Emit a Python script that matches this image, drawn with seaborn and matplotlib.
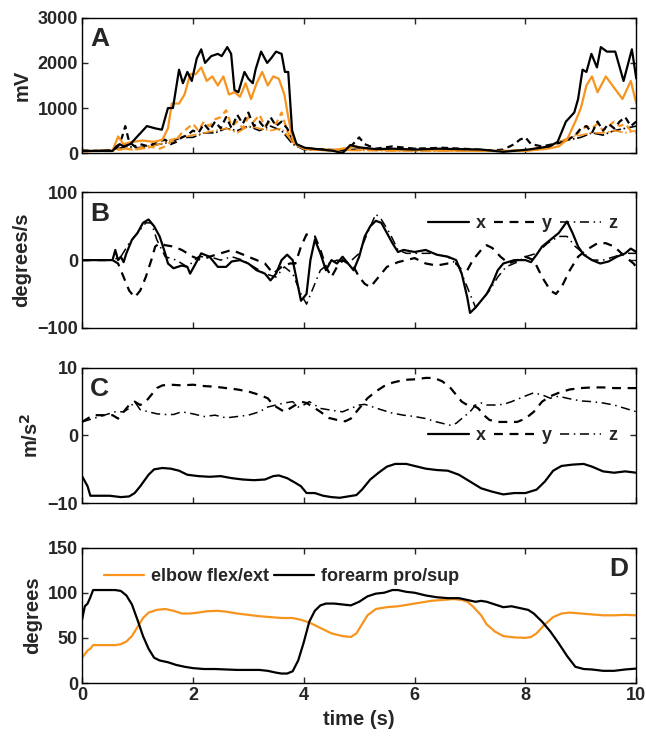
import numpy as np
import pandas as pd
import matplotlib
matplotlib.use('Agg')
import matplotlib.pyplot as plt
import seaborn as sns

ORANGE = '#F7941E'

# Panel A: EMG envelopes (mV)
emg_t_black = [0, 0.3, 0.55, 0.62, 0.68, 0.75, 0.87, 1.02, 1.17, 1.32, 1.44, 1.55, 1.64, 1.75, 1.82, 1.9, 1.98,
               2.07, 2.15, 2.22, 2.33, 2.45, 2.52, 2.62, 2.69, 2.75, 2.82, 2.93, 3.0, 3.08, 3.13, 3.23, 3.34,
               3.41, 3.5, 3.6, 3.66, 3.72, 3.79, 3.87, 4.02, 4.32, 4.54, 4.7, 4.84, 4.99, 5.3, 5.6, 6.0, 6.4,
               6.8, 7.2, 7.6, 8.05, 8.43, 8.58, 8.73, 8.88, 8.95, 9.03, 9.1, 9.19, 9.29, 9.36, 9.47, 9.62, 9.77,
               9.92, 10]
emg_black = [50, 50, 50, 150, 200, 150, 200, 400, 600, 550, 520, 1000, 1000, 1850, 1550, 1800, 1600,
             2100, 2300, 2000, 2150, 2200, 2150, 2350, 2200, 1400, 1350, 1800, 1650, 1550, 1850, 2250, 2000,
             2100, 2250, 2200, 1800, 1800, 500, 200, 120, 80, 50, 0, 180, 130, 90, 100, 80, 100,
             90, 80, 30, 80, 150, 250, 700, 900, 1200, 1850, 1800, 2200, 1900, 2350, 2250, 2250, 1600,
             2300, 1650]
emg_t_orange = [0, 0.55, 0.65, 0.75, 0.9, 1.1, 1.3, 1.45, 1.55, 1.62, 1.75, 1.85, 1.95, 2.05, 2.15, 2.25,
                2.35, 2.45, 2.55, 2.65, 2.75, 2.85, 2.95, 3.05, 3.15, 3.25, 3.35, 3.45, 3.55, 3.65, 3.72,
                3.8, 3.9, 4.1, 4.5, 4.95, 5.1, 5.6, 6.2, 6.8, 7.4, 8.0, 8.4, 8.6, 8.75, 8.9, 9.0, 9.1, 9.2,
                9.3, 9.45, 9.6, 9.75, 9.9, 10]
emg_orange = [50, 50, 370, 200, 250, 280, 250, 300, 550, 1100, 1100, 1300, 1750, 1750, 1900, 1600,
              1700, 1500, 1700, 1300, 1350, 1250, 1550, 1200, 1550, 1800, 1500, 1700, 1650, 1300, 800,
              300, 150, 80, 60, 150, 100, 60, 70, 60, 50, 50, 100, 150, 300, 700, 1000, 1500, 1700,
              1350, 1700, 1450, 1200, 1600, 1100]
emg_t_black2 = [0, 0.3, 0.55, 0.65, 0.72, 0.78, 0.85, 0.95, 1.05, 1.2, 1.35, 1.5, 1.6, 1.7, 1.8, 1.9, 2.0,
                2.1, 2.2, 2.3, 2.4, 2.5, 2.6, 2.7, 2.8, 2.9, 3.0, 3.1, 3.2, 3.3, 3.4, 3.5, 3.6, 3.7, 3.8,
                3.9, 4.1, 4.4, 4.7, 4.85, 5.0, 5.1, 5.3, 5.6, 6.0, 6.5, 7.0, 7.4, 7.6, 7.8, 7.9, 8.0, 8.1,
                8.3, 8.5, 8.7, 8.9, 9.0, 9.1, 9.2, 9.3, 9.4, 9.5, 9.6, 9.7, 9.8, 9.9, 10]
emg_black2 = [60, 50, 50, 150, 350, 600, 250, 150, 200, 150, 250, 300, 200, 250, 350, 400, 500,
              450, 650, 500, 700, 550, 800, 550, 850, 650, 900, 600, 700, 550, 800, 600, 700, 550, 300,
              150, 100, 80, 60, 150, 350, 200, 100, 150, 100, 120, 90, 60, 80, 200, 300, 350, 200,
              150, 200, 250, 400, 550, 600, 450, 700, 500, 650, 550, 700, 800, 600, 700]
emg_t_orange2 = [0, 0.5, 0.62, 0.7, 0.8, 0.9, 1.0, 1.2, 1.4, 1.5, 1.6, 1.7, 1.8, 1.9, 2.0, 2.1, 2.2, 2.3,
                 2.4, 2.5, 2.6, 2.7, 2.8, 2.9, 3.0, 3.1, 3.2, 3.3, 3.4, 3.5, 3.6, 3.7, 3.8, 4.0, 4.5, 5.0,
                 5.5, 6.0, 6.5, 7.0, 7.5, 8.0, 8.3, 8.5, 8.7, 8.9, 9.0, 9.1, 9.2, 9.3, 9.4, 9.5, 9.6,
                 9.7, 9.8, 9.9, 10]
emg_orange2 = [50, 50, 100, 80, 100, 80, 100, 150, 100, 150, 250, 300, 450, 550, 650, 500, 700, 600,
               750, 800, 950, 600, 700, 550, 800, 700, 850, 600, 700, 650, 900, 500, 250, 100, 80, 70,
               80, 70, 60, 60, 50, 60, 100, 200, 250, 400, 500, 600, 550, 650, 500, 600, 700,
               600, 650, 500, 450]
emg_t_low = [0, 0.6, 0.8, 1.0, 1.2, 1.4, 1.6, 1.8, 2.0, 2.2, 2.4, 2.6, 2.8, 3.0, 3.2, 3.4, 3.6, 3.8, 4.0,
             4.5, 5.0, 5.5, 6.0, 7.0, 7.5, 8.0, 8.4, 8.6, 8.8, 9.0, 9.2, 9.4, 9.6, 9.8, 10]
emg_black3 = [40, 80, 150, 120, 150, 200, 250, 350, 350, 450, 450, 550, 500, 600, 500, 600, 500, 200, 80,
              60, 90, 70, 60, 60, 50, 60, 120, 250, 300, 350, 450, 400, 500, 550, 600]
emg_orange3 = [30, 60, 100, 80, 120, 200, 300, 350, 400, 450, 500, 550, 450, 600, 550, 500, 550, 250, 100,
               60, 60, 50, 50, 50, 40, 70, 150, 250, 350, 400, 450, 450, 500, 450, 500]

# Panel B: angular velocity (degrees/s)
gyro_t_x = [0, 0.55, 0.6, 0.65, 0.7, 0.75, 0.8, 0.9, 1.0, 1.1, 1.2, 1.3, 1.4, 1.5, 1.55, 1.65, 1.8, 1.9,
            1.95, 2.05, 2.15, 2.3, 2.45, 2.6, 2.7, 2.85, 3.0, 3.15, 3.3, 3.4, 3.5, 3.6, 3.7, 3.8, 3.9,
            3.95, 4.05, 4.12, 4.2, 4.3, 4.4, 4.5, 4.6, 4.7, 4.8, 4.9, 5.0, 5.1, 5.2, 5.3, 5.4, 5.5, 5.6,
            5.7, 5.8, 6.0, 6.2, 6.4, 6.6, 6.75, 6.85, 6.95, 7.0, 7.1, 7.2, 7.3, 7.4, 7.5, 7.6, 7.8, 8.0,
            8.1, 8.2, 8.3, 8.45, 8.6, 8.75, 8.85, 8.95, 9.05, 9.2, 9.35, 9.5, 9.65, 9.8, 9.9, 10]
gyro_x = [0, 0, 15, 0, 5, -3, 10, 30, 40, 55, 60, 50, 35, 10, -5, -12, -8, -10,
          -20, -5, 10, 5, -10, -10, -2, 0, -5, -15, -20, -30, -20, 0, 8, 0, -40,
          -60, -50, 0, 30, 10, -15, 0, -5, 5, -5, -15, 5, 35, 50, 58, 55, 40, 25,
          12, 15, 12, 15, 8, 5, 0, -20, -55, -78, -70, -60, -50, -35, -15, -5, 0, 0,
          -3, 8, 20, 30, 40, 57, 40, 20, 8, 0, -5, -2, 5, 10, 17, 12]
gyro_t_y = [0, 0.55, 0.65, 0.75, 0.85, 0.95, 1.05, 1.15, 1.25, 1.32, 1.4, 1.5, 1.65, 1.8, 2.0, 2.15, 2.3,
            2.5, 2.7, 2.85, 3.0, 3.15, 3.3, 3.45, 3.6, 3.75, 3.85, 3.95, 4.05, 4.2, 4.3, 4.4, 4.5, 4.6,
            4.7, 4.8, 4.9, 5.0, 5.1, 5.2, 5.35, 5.5, 5.7, 5.85, 6.0, 6.2, 6.4, 6.6, 6.75, 6.85, 6.95,
            7.05, 7.2, 7.3, 7.4, 7.55, 7.7, 7.85, 8.0, 8.15, 8.3, 8.45, 8.55, 8.65, 8.8, 8.95, 9.1,
            9.3, 9.45, 9.6, 9.8, 9.95, 10]
gyro_y = [0, 0, -5, -25, -45, -55, -45, -25, 0, 20, 25, 22, 20, 15, 5, 0, 5,
          10, 15, 10, 5, 0, -5, -20, -10, -5, -5, 20, 38, 35, 15, -10, -25, -10,
          0, -5, -10, -25, -35, -40, -25, -10, -3, 0, 3, -5, -8, -5, -5, -15, -15,
          0, 15, 22, 18, 5, -5, 0, 5, 0, -25, -45, -50, -40, -15, 5, 15,
          25, 25, 20, 5, -5, -10]
gyro_t_z = [0, 0.55, 0.7, 0.85, 1.0, 1.15, 1.25, 1.35, 1.5, 1.7, 1.9, 2.1, 2.3, 2.5, 2.7, 2.9, 3.1, 3.3,
            3.5, 3.65, 3.8, 3.95, 4.05, 4.15, 4.3, 4.45, 4.6, 4.8, 5.0, 5.15, 5.3, 5.4, 5.55, 5.7, 5.85,
            6.0, 6.3, 6.6, 6.8, 7.0, 7.1, 7.2, 7.35, 7.5, 7.65, 7.85, 8.0, 8.2, 8.4, 8.6, 8.75, 8.9,
            9.05, 9.2, 9.4, 9.6, 9.8, 10]
gyro_z = [0, 0, 5, 25, 40, 55, 55, 30, 5, 0, -10, 5, 5, 0, 5, 0, -10, -20,
          -25, -10, -20, -50, -65, -45, -15, -5, 0, -5, 10, 40, 68, 60, 40, 15, 10,
          10, 10, 5, -10, -50, -70, -60, -45, -25, -10, -3, 5, 10, 25, 35, 35, 20,
          10, 0, 0, 5, 10, 10]

# Panel C: acceleration (m/s^2)
acc_t_x = [0, 0.1, 0.15, 0.3, 0.5, 0.7, 0.85, 0.95, 1.05, 1.2, 1.3, 1.45, 1.6, 1.75, 1.9, 2.1, 2.3, 2.5,
           2.7, 2.9, 3.1, 3.3, 3.45, 3.55, 3.7, 3.85, 3.95, 4.05, 4.2, 4.35, 4.5, 4.65, 4.8, 4.95, 5.05,
           5.2, 5.35, 5.5, 5.65, 5.85, 6.0, 6.2, 6.4, 6.6, 6.8, 7.0, 7.2, 7.4, 7.6, 7.8, 8.0, 8.2,
           8.35, 8.5, 8.65, 8.85, 9.05, 9.2, 9.4, 9.6, 9.8, 10]
acc_x = [-6, -7.5, -8.9, -8.9, -8.9, -9.1, -9, -8.5, -7.5, -5.8, -5, -4.8, -4.9, -5.2, -5.8, -6, -6.1, -6,
         -6.3, -6.5, -6.6, -6.5, -6, -5.9, -6.3, -7, -7.5, -8.5, -8.5, -8.9, -9.1, -9.2, -9, -8.8, -8,
         -6.5, -5.5, -4.6, -4.2, -4.2, -4.5, -4.9, -5.1, -5.2, -5.8, -6.8, -7.8, -8.3, -8.7, -8.5, -8.5, -8,
         -6.8, -5.2, -4.5, -4.3, -4.2, -4.6, -5.3, -5.5, -5.3, -5.5]
acc_t_y = [0, 0.1, 0.2, 0.4, 0.55, 0.65, 0.75, 0.85, 0.95, 1.05, 1.15, 1.25, 1.35, 1.45, 1.6, 1.8, 2.0,
           2.2, 2.4, 2.6, 2.8, 3.0, 3.2, 3.35, 3.45, 3.55, 3.65, 3.75, 3.85, 3.95, 4.05, 4.15, 4.3, 4.45,
           4.6, 4.75, 4.85, 4.95, 5.05, 5.15, 5.3, 5.45, 5.6, 5.8, 6.0, 6.2, 6.35, 6.5, 6.65, 6.75, 6.85,
           6.95, 7.05, 7.15, 7.25, 7.35, 7.5, 7.7, 7.85, 8.0, 8.15, 8.3, 8.45, 8.6, 8.8, 9.0, 9.2, 9.4,
           9.6, 9.8, 10]
acc_y = [2, 2.5, 3, 3, 3, 2.5, 3.5, 4.5, 5, 4.5, 5, 6, 7, 7.4, 7.5, 7.4, 7.5,
         7.3, 7.2, 7, 6.8, 6.5, 6, 5.5, 4.5, 4, 3.5, 4, 4.5, 5, 4.8, 4.3, 3.5, 2.6,
         2.3, 2.1, 2.5, 3.5, 4.5, 5.5, 6.5, 7.3, 7.8, 8.2, 8.3, 8.5, 8.5, 8, 7, 6, 5,
         4.5, 4.5, 4, 3, 2.3, 2, 2, 2, 2.5, 3.5, 5, 5.8, 6.3, 6.8, 7, 7.1, 7.1,
         7, 7, 7]
acc_t_z = [0, 0.2, 0.4, 0.6, 0.75, 0.85, 0.95, 1.05, 1.2, 1.35, 1.5, 1.65, 1.8, 2.0, 2.2, 2.4, 2.6, 2.8,
           3.0, 3.2, 3.35, 3.5, 3.65, 3.8, 3.9, 4.0, 4.1, 4.2, 4.3, 4.45, 4.6, 4.7, 4.85, 5.0, 5.1, 5.25,
           5.4, 5.6, 5.8, 6.0, 6.2, 6.4, 6.55, 6.65, 6.75, 6.85, 7.0, 7.1, 7.2, 7.3, 7.45, 7.6, 7.75,
           7.9, 8.05, 8.15, 8.3, 8.45, 8.6, 8.75, 9.0, 9.2, 9.4, 9.6, 9.8, 10]
acc_z = [2, 2.5, 3, 3.5, 3.5, 4, 5, 3.8, 3.5, 3.2, 3.1, 3.1, 3.5, 3.2, 2.8, 3, 2.6, 2.8,
         3, 3.5, 4.2, 4.5, 4.8, 5, 4.2, 4.5, 5, 4.5, 4, 3.8, 3.6, 3.5, 4, 4.5, 4.6, 4.2,
         3.8, 3.3, 3, 2.8, 2.5, 2, 1.7, 1.5, 1.8, 2.5, 3.5, 4.5, 4.8, 4.5, 4.5, 4.6, 5,
         5.5, 6, 6.3, 6, 5.5, 5.8, 5.5, 5.1, 5, 4.8, 4.5, 4, 3.5]

# Panel D: joint angles (degrees)
elbow_t = [0, 0.05, 0.1, 0.15, 0.2, 0.4, 0.6, 0.7, 0.8, 0.9, 1.0, 1.1, 1.2, 1.35, 1.5, 1.65, 1.8, 1.95,
           2.1, 2.25, 2.45, 2.6, 2.8, 3.0, 3.2, 3.4, 3.6, 3.8, 3.95, 4.1, 4.3, 4.5, 4.7, 4.85, 4.95, 5.05,
           5.15, 5.3, 5.5, 5.7, 5.9, 6.1, 6.3, 6.5, 6.7, 6.85, 6.95, 7.05, 7.2, 7.3, 7.45, 7.6, 7.8,
           8.0, 8.1, 8.2, 8.35, 8.5, 8.65, 8.8, 9.0, 9.2, 9.4, 9.6, 9.8, 10]
elbow = [28, 32, 36, 38, 42, 42, 42, 43, 46, 52, 62, 72, 78, 81, 82, 80, 77, 77,
         78, 79.5, 80, 79, 77, 75.5, 74, 73, 72, 72, 70, 67, 61, 55, 52, 51, 55, 65,
         75, 82, 84, 85, 87, 89, 91, 92, 93, 92, 90, 85, 75, 65, 57, 52, 50.5,
         50, 51, 55, 65, 73, 77, 78, 77, 76, 75, 75, 75.5, 75]
forearm_t = [0, 0.05, 0.1, 0.15, 0.2, 0.4, 0.6, 0.7, 0.8, 0.9, 1.0, 1.1, 1.2, 1.3, 1.4, 1.55, 1.7, 1.85,
             2.0, 2.2, 2.4, 2.6, 2.8, 3.0, 3.2, 3.35, 3.5, 3.6, 3.7, 3.8, 3.9, 4.0, 4.1, 4.2, 4.3, 4.4,
             4.55, 4.7, 4.85, 5.0, 5.15, 5.3, 5.45, 5.6, 5.7, 5.85, 6.0, 6.2, 6.4, 6.6, 6.8, 6.95, 7.1,
             7.2, 7.3, 7.45, 7.6, 7.75, 7.9, 8.05, 8.15, 8.3, 8.45, 8.6, 8.75, 8.9, 9.05, 9.2, 9.4, 9.6,
             9.8, 10]
forearm = [70, 85, 88, 95, 103, 103, 103, 102, 97, 87, 70, 52, 38, 28, 25, 23, 20, 18,
           16.5, 15.5, 15.5, 15, 14.5, 14.5, 14.5, 13.5, 11.5, 10.5, 10.5, 13, 25, 45, 68, 80, 86, 88,
           88, 87, 86, 90, 96, 99, 100, 103, 103, 101, 100, 97, 95, 94, 94, 92, 90,
           91, 90, 87, 84, 85, 83, 81, 77, 68, 57, 44, 30, 18, 15.5, 15, 13.5, 13.5,
           15, 16]

sns.set_style('ticks')
plt.rcParams['font.family'] = ['Liberation Sans', 'DejaVu Sans']
plt.rcParams['font.weight'] = 'bold'
plt.rcParams['axes.labelweight'] = 'bold'
plt.rcParams['xtick.direction'] = 'in'
plt.rcParams['ytick.direction'] = 'in'

fig = plt.figure(figsize=(6.46, 7.40), dpi=100)
left, width, height = 0.127, 0.858, 0.183
bottoms = [0.793, 0.557, 0.320, 0.077]
axes = [fig.add_axes([left, b, width, height]) for b in bottoms]
axA, axB, axC, axD = axes

lw = 1.6
dash = (0, (4, 3))
dashdot = (0, (6, 3, 1, 3))
leg_kw = dict(ncol=3, frameon=False, handlelength=2.3, handletextpad=0.4, columnspacing=0.4,
              prop={'weight': 'bold', 'size': 13})

# A
sns.lineplot(x=emg_t_low, y=emg_black3, ax=axA, color='black', lw=1.2, linestyle='-.')
sns.lineplot(x=emg_t_low, y=emg_orange3, ax=axA, color=ORANGE, lw=1.2, linestyle='-.')
sns.lineplot(x=emg_t_orange2, y=emg_orange2, ax=axA, color=ORANGE, lw=1.6, linestyle=(0, (3, 2)))
sns.lineplot(x=emg_t_black2, y=emg_black2, ax=axA, color='black', lw=1.6, linestyle=(0, (3, 2)))
sns.lineplot(x=emg_t_orange, y=emg_orange, ax=axA, color=ORANGE, lw=lw)
sns.lineplot(x=emg_t_black, y=emg_black, ax=axA, color='black', lw=lw)
axA.set_ylim(0, 3000)
axA.set_yticks([0, 1000, 2000, 3000])
axA.set_ylabel('mV', fontsize=14.5, fontweight='bold')

# B
sns.lineplot(x=gyro_t_x, y=gyro_x, ax=axB, color='black', lw=lw, label='x')
sns.lineplot(x=gyro_t_y, y=gyro_y, ax=axB, color='black', lw=lw, linestyle=dash, label='y')
sns.lineplot(x=gyro_t_z, y=gyro_z, ax=axB, color='black', lw=1.1, linestyle=dashdot, label='z')
axB.set_ylim(-100, 100)
axB.set_yticks([-100, 0, 100])
axB.set_ylabel('degrees/s', fontsize=14.5, fontweight='bold')
axB.legend(loc='upper right', bbox_to_anchor=(0.995, 0.95), **leg_kw)

# C
sns.lineplot(x=acc_t_x, y=acc_x, ax=axC, color='black', lw=lw, label='x')
sns.lineplot(x=acc_t_y, y=acc_y, ax=axC, color='black', lw=lw, linestyle=dash, label='y')
sns.lineplot(x=acc_t_z, y=acc_z, ax=axC, color='black', lw=1.1, linestyle=dashdot, label='z')
axC.set_ylim(-10, 10)
axC.set_yticks([-10, 0, 10])
axC.set_ylabel('m/s$^2$', fontsize=14.5, fontweight='bold')
axC.legend(loc='center right', bbox_to_anchor=(0.995, 0.5), **leg_kw)

# D
sns.lineplot(x=elbow_t, y=elbow, ax=axD, color=ORANGE, lw=lw, label='elbow flex/ext')
sns.lineplot(x=forearm_t, y=forearm, ax=axD, color='black', lw=lw, label='forearm pro/sup')
axD.set_ylim(0, 150)
axD.set_yticks([0, 50, 100, 150])
axD.set_ylabel('degrees', fontsize=14.5, fontweight='bold')
axD.set_xlabel('time (s)', fontsize=14.5, fontweight='bold')
axD.legend(loc='upper left', bbox_to_anchor=(0.01, 0.97), ncol=2, frameon=False, handlelength=2.2,
           handletextpad=0.4, columnspacing=0.3, prop={'weight': 'bold', 'size': 13})

for ax, letter in zip(axes, ['A', 'B', 'C', 'D']):
    ax.set_xlim(0, 10)
    ax.set_xticks([0, 2, 4, 6, 8, 10])
    ax.tick_params(axis='both', which='both', top=True, right=True, length=4, width=1,
                   labelsize=13, pad=3)
    for lab in ax.get_yticklabels() + ax.get_xticklabels():
        lab.set_fontweight('bold')
    for s in ax.spines.values():
        s.set_linewidth(1.0)
        s.set_color('black')
    if ax is not axD:
        ax.set_xticklabels([])
        ax.set_xlabel('')
    if letter == 'D':
        ax.text(0.985, 0.84, letter, transform=ax.transAxes, ha='right', va='center',
                fontsize=19, fontweight='bold')
    else:
        ax.text(0.015, 0.84, letter, transform=ax.transAxes, ha='left', va='center',
                fontsize=19, fontweight='bold')

fig.align_ylabels(axes)
fig.savefig('out.png', dpi=100)
